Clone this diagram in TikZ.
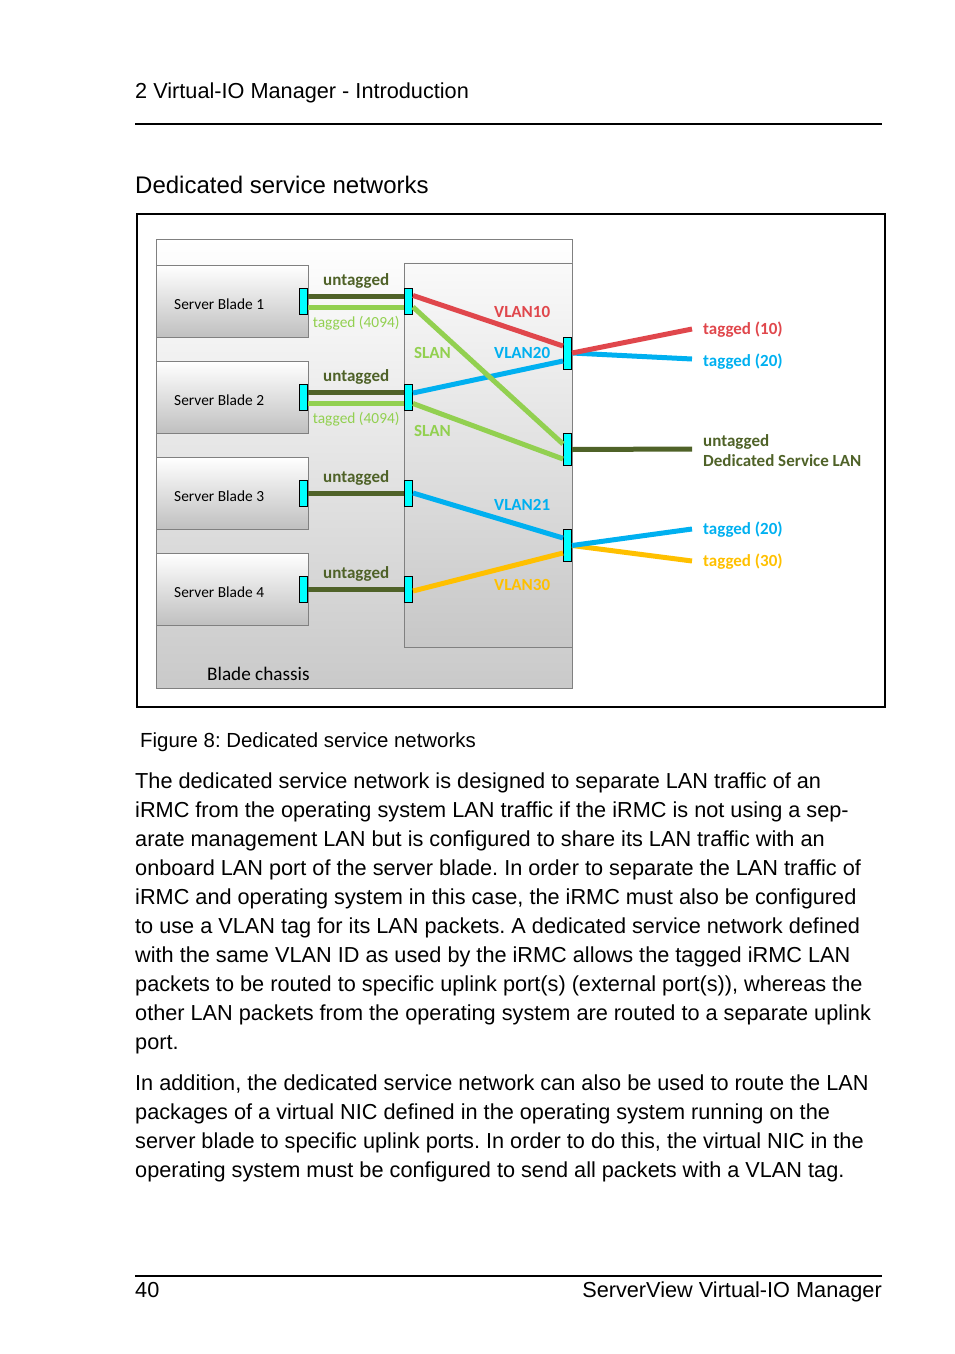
\documentclass[tikz,border=0pt]{standalone}
\usepackage{fontspec}
\setmainfont{Liberation Sans}
\newfontfamily\diagramFont{Carlito}
\usetikzlibrary{positioning}
\frenchspacing
\tikzstyle{page} = [x = 1pt, y = -1pt]
\definecolor{vlanRed}{RGB}{224,71,76}
\definecolor{vlanBlue}{RGB}{0,176,240}
\definecolor{slanGreen}{RGB}{146,208,80}
\definecolor{untagGreen}{RGB}{79,98,40}
\definecolor{vlanYellow}{RGB}{255,192,0}
\definecolor{portCyan}{RGB}{0,255,255}
\tikzstyle{chassisStyle} = [draw=black!50, top color=white, bottom color=black!21, minimum width=416, minimum height=449, anchor=north west, inner sep=0]
\tikzstyle{switchStyle} = [draw=black!50, top color=black!2, bottom color=black!22, minimum width=168, minimum height=384.5, anchor=north west, inner sep=0]
\tikzstyle{bladeStyle} = [draw=black!50, top color=white, bottom color=black!25, minimum width=152, minimum height=72, anchor=north west, inner sep=0]
\tikzstyle{portStyle} = [draw=black, line width=1pt, fill=portCyan, minimum width=8, minimum height=26, inner sep=0]
\tikzstyle{uplinkPort} = [portStyle, minimum height=32, anchor=east]
\tikzstyle{linkLine} = [line width=5pt]
\tikzstyle{bladeText} = [font={\diagramFont\fontsize{15.4}{18}\selectfont}, anchor=base west, inner sep=0]
\tikzstyle{vlanText} = [font={\diagramFont\bfseries\fontsize{17}{20}\selectfont}, anchor=base west, inner sep=0]
\tikzstyle{untagText} = [font={\diagramFont\bfseries\fontsize{17}{20}\selectfont}, above=5.5pt, inner sep=0]
\tikzstyle{tagText} = [font={\diagramFont\fontsize{15.4}{18}\selectfont}, below=6.8pt, inner sep=0]
\tikzstyle{pageText} = [anchor=base west, inner sep=0]
\newcommand{\bodyFont}{\fontsize{21.7}{29}\selectfont}

\begin{document}
\begin{tikzpicture}[page]
  \useasboundingbox (0,0) rectangle (954,1354);

  % running head
  \node[pageText, font=\bodyFont] (head) at (135,99) {2 Virtual-IO Manager - Introduction};
  \draw[line width=2.5pt] (135,124) -- (882,124);
  \node[pageText, font={\fontsize{24}{28}\selectfont}] (title) at (135,193) {Dedicated service networks};

  % figure
  \draw[line width=1.5pt] (137,214) rectangle (885,707);
  \node[chassisStyle] (chassis) at (156,238.5) {};
  \node[bladeText, font={\diagramFont\fontsize{19.2}{22}\selectfont}] (chassisText) at (207,680) {Blade chassis};
  \node[switchStyle] (switch) at (404,262.5) {};

  \foreach \i in {1,...,4} {
    \node[bladeStyle] (blade\i) at ({156},{265.3+96*(\i-1)}) {};
    \node[bladeText] (bladeText\i) at ({174},{309.8+96*(\i-1)}) {Server Blade \i};
    \node[portStyle, anchor=east] (bladePort\i) at (blade\i.east) {};
    \node[portStyle, anchor=west] (switchPort\i) at (switch.west |- blade\i.east) {};
  }
  \node[uplinkPort] (uplinkA) at (572,353) {};
  \node[uplinkPort] (uplinkB) at (572,449.5) {};
  \node[uplinkPort] (uplinkC) at (572,545.5) {};

  % blade to switch
  \draw[linkLine, untagGreen] ([yshift=5pt]bladePort1.east) -- node[untagText] {untagged} ([yshift=5pt]switchPort1.west);
  \draw[linkLine, slanGreen] ([yshift=-5.5pt]bladePort1.east) -- node[tagText] {tagged (4094)} ([yshift=-5.5pt]switchPort1.west);
  \draw[linkLine, untagGreen] ([yshift=5pt]bladePort2.east) -- node[untagText] {untagged} ([yshift=5pt]switchPort2.west);
  \draw[linkLine, slanGreen] ([yshift=-5.5pt]bladePort2.east) -- node[tagText] {tagged (4094)} ([yshift=-5.5pt]switchPort2.west);
  \draw[linkLine, untagGreen] (bladePort3.east) -- node[untagText] {untagged} (switchPort3.west);
  \draw[linkLine, untagGreen] (bladePort4.east) -- node[untagText] {untagged} (switchPort4.west);

  % inside the switch
  \draw[linkLine, vlanRed] ([yshift=6pt]switchPort1.east) -- ([yshift=7pt]uplinkA.west);
  \draw[linkLine, vlanBlue] ([yshift=4.5pt]switchPort2.east) -- ([yshift=-8pt]uplinkA.west);
  \draw[linkLine, slanGreen] ([yshift=-5.5pt]switchPort1.east) -- ([yshift=5.5pt]uplinkB.west);
  \draw[linkLine, slanGreen] ([yshift=-6pt]switchPort2.east) -- ([yshift=-9.5pt]uplinkB.west);
  \draw[linkLine, vlanBlue] ([yshift=0.5pt]switchPort3.east) -- ([yshift=7.5pt]uplinkC.west);
  \draw[linkLine, vlanYellow] ([yshift=-1.5pt]switchPort4.east) -- ([yshift=-7.5pt]uplinkC.west);

  \node[vlanText, text=vlanRed] (vlan10) at (494,317.3) {VLAN10};
  \node[vlanText, text=slanGreen] (slanA) at (414,358.3) {SLAN};
  \node[vlanText, text=vlanBlue] (vlan20) at (494,358.3) {VLAN20};
  \node[vlanText, text=slanGreen] (slanB) at (414,436.7) {SLAN};
  \node[vlanText, text=vlanBlue] (vlan21) at (494,510) {VLAN21};
  \node[vlanText, text=vlanYellow] (vlan30) at (494,590) {VLAN30};

  % uplinks
  \coordinate (ext10) at (692,329);
  \coordinate (ext20) at (692,359);
  \coordinate (extDsl) at (692,449);
  \coordinate (ext21) at (692,529);
  \coordinate (ext30) at (692,561);
  \draw[linkLine, vlanBlue] (uplinkA.east) -- (ext20);
  \draw[linkLine, vlanRed] (uplinkA.east) -- (ext10);
  \draw[linkLine, untagGreen] (uplinkB.east) -- (extDsl);
  \draw[linkLine, vlanYellow] (uplinkC.east) -- (ext30);
  \draw[linkLine, vlanBlue] (uplinkC.east) -- (ext21);

  \node[vlanText, text=vlanRed] (tag10) at (703,334) {tagged (10)};
  \node[vlanText, text=vlanBlue] (tag20) at (703,366) {tagged (20)};
  \node[vlanText, text=untagGreen] (dslA) at (703,446.7) {untagged};
  \node[vlanText, text=untagGreen] (dslB) at (703,466.7) {Dedicated Service LAN};
  \node[vlanText, text=vlanBlue] (tag21) at (703,534.3) {tagged (20)};
  \node[vlanText, text=vlanYellow] (tag30) at (703,566) {tagged (30)};

  % caption and text
  \node[pageText, font={\fontsize{20.4}{24}\selectfont}] (caption) at (140,747) {Figure 8: Dedicated service networks};
  \foreach \txt [count=\n] in {
      {The dedicated service network is designed to separate LAN traffic of an},
      {iRMC from the operating system LAN traffic if the iRMC is not using a sep-},
      {arate management LAN but is configured to share its LAN traffic with an},
      {onboard LAN port of the server blade. In order to separate the LAN traffic of},
      {iRMC and operating system in this case, the iRMC must also be configured},
      {to use a VLAN tag for its LAN packets. A dedicated service network defined},
      {with the same VLAN ID as used by the iRMC allows the tagged iRMC LAN},
      {packets to be routed to specific uplink port(s) (external port(s)), whereas the},
      {other LAN packets from the operating system are routed to a separate uplink},
      {port.}} {
    \node[pageText, font=\bodyFont] (bodyA\n) at ({135},{788+29*(\n-1)}) {\txt};
  }
  \foreach \txt [count=\n] in {
      {In addition, the dedicated service network can also be used to route the LAN},
      {packages of a virtual NIC defined in the operating system running on the},
      {server blade to specific uplink ports. In order to do this, the virtual NIC in the},
      {operating system must be configured to send all packets with a VLAN tag.}} {
    \node[pageText, font=\bodyFont] (bodyB\n) at ({135},{1090+29*(\n-1)}) {\txt};
  }

  % running foot
  \draw[line width=2.5pt] (135,1276) -- (882,1276);
  \node[pageText, font=\bodyFont] (pageNo) at (135,1297) {40};
  \node[pageText, anchor=base east, font=\bodyFont] (footTitle) at (882,1297) {ServerView Virtual-IO Manager};
\end{tikzpicture}
\end{document}
